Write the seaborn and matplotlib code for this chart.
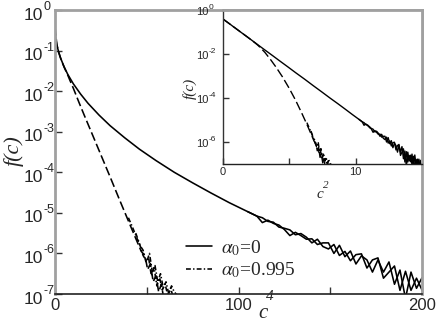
import numpy as np
import pandas as pd
import matplotlib
matplotlib.use("Agg")
import matplotlib.pyplot as plt
import seaborn as sns
from matplotlib.lines import Line2D

# ---------------- data ----------------
# alpha0 = 0 : x = c^4, values given as log10 f(c)
solid_a_c4 = [0, 0.1, 0.25, 0.5, 1, 2, 3, 5, 7, 10, 14, 18, 24, 30, 38, 46, 55, 65, 75, 85, 95, 105,
              110, 113, 116, 119, 122, 125, 128, 131, 134, 137, 140, 143, 146, 149, 152, 155, 158, 161,
              164, 167, 170, 173, 176, 179, 182, 185, 188, 191, 194, 197, 200, 203, 206, 209, 212, 215,
              218, 221, 224]
solid_a_log10 = [-0.41, -0.55, -0.63, -0.725, -0.855, -1.04, -1.18, -1.405, -1.59, -1.82, -2.075, -2.30,
                 -2.59, -2.85, -3.15, -3.43, -3.71, -4.00, -4.26, -4.51, -4.75, -4.97,
                 -5.08, -5.24, -5.18, -5.26, -5.30, -5.41, -5.56, -5.48, -5.56, -5.65, -5.64, -5.78,
                 -5.74, -5.74, -6.00, -5.80, -6.08, -5.94, -6.26, -6.06, -6.16, -6.46, -6.16, -6.46,
                 -6.21, -6.76, -6.41, -7.11, -6.46, -6.86, -6.60, -7.05, -6.65, -7.24, -6.79, -7.18,
                 -6.78, -7.33, -6.97]
solid_b_c4 = [105, 110, 113, 116, 119, 122, 125, 128, 131, 134, 137, 140, 143, 146, 149, 152, 155, 158,
              161, 164, 167, 170, 173, 176, 179, 182, 185, 188, 191, 194, 197, 200, 203, 206, 209, 212,
              215, 218, 221, 224]
solid_b_log10 = [-4.97, -5.08, -5.12, -5.21, -5.23, -5.35, -5.38, -5.42, -5.54, -5.51, -5.60, -5.74,
                 -5.65, -5.83, -5.89, -5.78, -6.05, -5.95, -6.18, -6.03, -6.01, -6.36, -6.16, -6.11,
                 -6.61, -6.46, -6.31, -6.91, -6.44, -6.91, -6.61, -6.90, -6.55, -7.15, -6.59, -7.09,
                 -6.78, -7.28, -6.83, -7.32]

# alpha0 = 0.995
dash_c4 = [0, 1, 2, 3, 4, 5, 6, 7, 8, 10, 13, 16, 20, 25, 30, 35, 40, 44, 47, 49, 50.5, 52, 53.5, 55,
           56.5, 58, 59.5, 61]
dash_log10 = [-0.41, -0.855, -1.04, -1.18, -1.30, -1.41, -1.51, -1.61, -1.72, -1.93, -2.27, -2.60,
              -3.03, -3.57, -4.11, -4.66, -5.20, -5.63, -5.95, -6.05, -6.40, -6.25, -6.70, -6.55,
              -6.95, -6.75, -7.20, -7.30]
dashdot_a_c4 = [40, 42, 44, 46, 48, 49.5, 51, 52.5, 54, 55.5, 57, 58.5, 60, 61.5, 63, 64.5, 66]
dashdot_a_log10 = [-5.12, -5.33, -5.55, -5.78, -5.92, -6.20, -6.10, -6.55, -6.35, -6.80, -6.60,
                   -6.90, -6.75, -7.05, -6.85, -7.10, -7.30]
dashdot_b_c4 = [44, 46, 48, 50, 51.5, 53, 54.5, 56, 57.5, 59, 60.5, 62, 63.5, 65, 67, 69]
dashdot_b_log10 = [-5.50, -5.75, -6.05, -6.20, -6.00, -6.45, -6.30, -6.70, -6.50, -6.85, -6.70,
                   -7.00, -6.80, -6.95, -7.05, -7.20]

legend_labels = [r"$\alpha_0$=0", r"$\alpha_0$=0.995"]
main_xticks = [0, 100, 200]
main_ydecades = [0, -1, -2, -3, -4, -5, -6, -7]
inset_xticks = [0, 10]
inset_ydecades = [0, -2, -4, -6]

# ---------------- style ----------------
sns.set_theme(style="ticks")
plt.rcParams["font.family"] = ["Liberation Serif", "DejaVu Serif"]
plt.rcParams["mathtext.fontset"] = "stix"
plt.rcParams["lines.scale_dashes"] = False

W, H = 437, 327
fig = plt.figure(figsize=(W / 100, H / 100), dpi=100)
fig.patch.set_facecolor("white")

def fx(px):
    return px / W

def fy(py):
    return (H - py) / H

ax = fig.add_axes([fx(55), fy(294), fx(422) - fx(55), fy(10) - fy(294)])
ins = fig.add_axes([fx(223), fy(164), fx(422) - fx(223), fy(10) - fy(164)])

DASH = (6.5, 2.5)
DASHDOT = (3.5, 1.6, 1.0, 1.6)
PX = 72.0 / 100.0  # points per pixel

def draw(axis, xfun, lw_main):
    series = [
        (solid_a_c4, solid_a_log10, None),
        (solid_b_c4, solid_b_log10, None),
        (dash_c4, dash_log10, DASH),
        (dashdot_a_c4, dashdot_a_log10, DASHDOT),
        (dashdot_b_c4, dashdot_b_log10, DASHDOT),
    ]
    for xs, ls, dashes in series:
        df = pd.DataFrame({"x": xfun(np.array(xs, dtype=float)),
                           "f": 10.0 ** np.array(ls)})
        sns.lineplot(data=df, x="x", y="f", ax=axis, color="black", lw=lw_main,
                     sort=False, estimator=None)
        line = axis.lines[-1]
        if dashes is not None:
            line.set_dashes(dashes)

def decade_labels(axis, decades, base_size, sup_size, gap_px, base_dy, sup_dy):
    for k in decades:
        axis.annotate("10", xy=(0, 10.0 ** k), xycoords=("axes fraction", "data"),
                      xytext=(-gap_px * PX, base_dy * PX), textcoords="offset points",
                      ha="right", va="center", fontsize=base_size, fontfamily="Liberation Sans",
                      annotation_clip=False)
        sup = str(k) if k != 0 else "0"
        axis.annotate(sup, xy=(0, 10.0 ** k), xycoords=("axes fraction", "data"),
                      xytext=((-gap_px + 0.5) * PX, sup_dy * PX), textcoords="offset points",
                      ha="left", va="center", fontsize=sup_size, fontfamily="Liberation Sans",
                      annotation_clip=False)

# main panel: f vs c^4
draw(ax, lambda v: v, 1.15)
ax.set_yscale("log")
ax.set_xlim(0, 200)
ax.set_ylim(1e-7, 1e0)
ax.set_xticks(main_xticks)
ax.set_xticks([50, 150], minor=True)
ax.set_xticklabels([str(t) for t in main_xticks], fontfamily="Liberation Sans", fontsize=12)
ax.set_yticks([10.0 ** k for k in main_ydecades])
ax.set_yticks([], minor=True)
ax.set_yticklabels([])
ax.tick_params(axis="both", which="both", direction="in", length=5, width=1, color="#333333",
               pad=3, top=False, right=False)
ax.set_xlabel("")
ax.set_ylabel("")
for s in ["left", "top", "right"]:
    ax.spines[s].set_color("#a0a0a0")
    ax.spines[s].set_linewidth(2)
ax.spines["bottom"].set_color("#222222")
ax.spines["bottom"].set_linewidth(1.2)
decade_labels(ax, main_ydecades, 12.5, 9, 12, -5, 3)

# main axis labels
fig.text(fx(14), fy(151), "f(c)", rotation=90, fontsize=16, style="italic",
         ha="center", va="center")
fig.text(fx(263), fy(314), "c", fontsize=15, style="italic", ha="center", va="center")
fig.text(fx(269.5), fy(297), "4", fontsize=11, style="italic", ha="center", va="center")

# legend
handles = [Line2D([], [], color="black", lw=1.15),
           Line2D([], [], color="black", lw=1.15, dashes=DASHDOT)]
leg = ax.legend(handles, legend_labels, loc="upper left",
                bbox_to_anchor=(fx(186), fy(238)), bbox_transform=fig.transFigure,
                frameon=False, fontsize=14, handlelength=1.35, handletextpad=0.45,
                labelspacing=0.15, borderpad=0, borderaxespad=0)

# inset: f vs c^2
ins.set_facecolor("white")
draw(ins, lambda v: np.sqrt(v), 1.0)
ins.set_yscale("log")
ins.set_xlim(0, 15)
ins.set_ylim(1e-7, 1e0)
ins.set_xticks(inset_xticks)
ins.set_xticks([5], minor=True)
ins.set_xticklabels([str(t) for t in inset_xticks], fontfamily="Liberation Sans", fontsize=8)
ins.set_yticks([10.0 ** k for k in inset_ydecades])
ins.set_yticks([], minor=True)
ins.set_yticklabels([])
ins.tick_params(axis="both", which="both", direction="in", length=4, width=1, color="#333333",
                pad=2, top=False, right=False)
ins.set_xlabel("")
ins.set_ylabel("")
for s in ["top", "right"]:
    ins.spines[s].set_color("#a0a0a0")
    ins.spines[s].set_linewidth(2)
ins.spines["left"].set_color("#333333")
ins.spines["left"].set_linewidth(1)
ins.spines["bottom"].set_color("#222222")
ins.spines["bottom"].set_linewidth(1)
decade_labels(ins, inset_ydecades, 8, 6, 14.5, -2, 2.5)

fig.text(fx(190), fy(88), "f(c)", rotation=90, fontsize=11, style="italic",
         ha="center", va="center")
fig.text(fx(320), fy(194), "c", fontsize=11, style="italic", ha="center", va="center")
fig.text(fx(326), fy(185), "2", fontsize=8, style="italic", ha="center", va="center")

fig.savefig("out.png", dpi=100, facecolor="white")
